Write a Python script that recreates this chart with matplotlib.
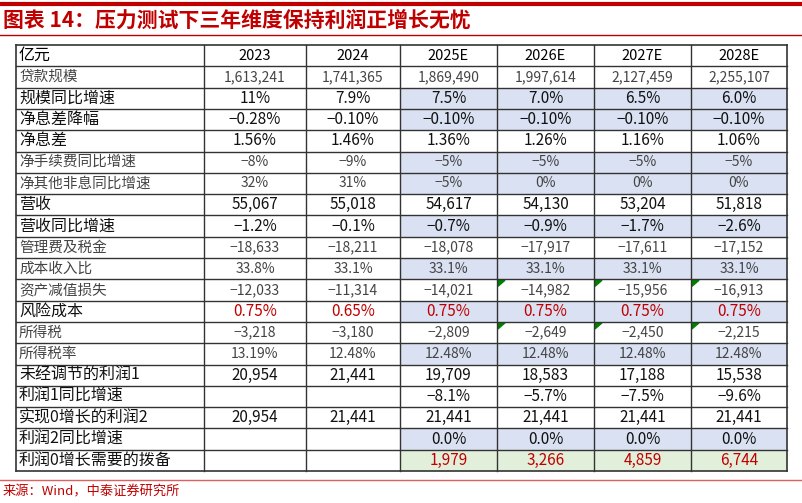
import matplotlib
matplotlib.use("Agg")
import matplotlib.pyplot as plt
from matplotlib.patches import Rectangle, Polygon

plt.rcParams['font.family'] = ['Noto Sans CJK SC', 'DejaVu Sans']

title = "图表 14：压力测试下三年维度保持利润正增长无忧"
source = "来源：Wind，中泰证券研究所"
header = ["亿元", "2023", "2024", "2025E", "2026E", "2027E", "2028E"]
row_labels = ["贷款规模", "规模同比增速", "净息差降幅", "净息差", "净手续费同比增速", "净其他非息同比增速",
              "营收", "营收同比增速", "管理费及税金", "成本收入比", "资产减值损失", "风险成本", "所得税",
              "所得税率", "未经调节的利润1", "利润1同比增速", "实现0增长的利润2", "利润2同比增速", "利润0增长需要的拨备"]
y2023 = ["1,613,241", "11%", "-0.28%", "1.56%", "-8%", "32%", "55,067", "-1.2%", "-18,633", "33.8%",
         "-12,033", "0.75%", "-3,218", "13.19%", "20,954", "", "20,954", "", ""]
y2024 = ["1,741,365", "7.9%", "-0.10%", "1.46%", "-9%", "31%", "55,018", "-0.1%", "-18,211", "33.1%",
         "-11,314", "0.65%", "-3,180", "12.48%", "21,441", "", "21,441", "", ""]
y2025 = ["1,869,490", "7.5%", "-0.10%", "1.36%", "-5%", "-5%", "54,617", "-0.7%", "-18,078", "33.1%",
         "-14,021", "0.75%", "-2,809", "12.48%", "19,709", "-8.1%", "21,441", "0.0%", "1,979"]
y2026 = ["1,997,614", "7.0%", "-0.10%", "1.26%", "-5%", "0%", "54,130", "-0.9%", "-17,917", "33.1%",
         "-14,982", "0.75%", "-2,649", "12.48%", "18,583", "-5.7%", "21,441", "0.0%", "3,266"]
y2027 = ["2,127,459", "6.5%", "-0.10%", "1.16%", "-5%", "0%", "53,204", "-1.7%", "-17,611", "33.1%",
         "-15,956", "0.75%", "-2,450", "12.48%", "17,188", "-7.5%", "21,441", "0.0%", "4,859"]
y2028 = ["2,255,107", "6.0%", "-0.10%", "1.06%", "-5%", "0%", "51,818", "-2.6%", "-17,152", "33.1%",
         "-16,913", "0.75%", "-2,215", "12.48%", "15,538", "-9.6%", "21,441", "0.0%", "6,744"]
cols = [y2023, y2024, y2025, y2026, y2027, y2028]

blue_rows = {1, 2, 4, 5, 7, 9, 11, 13, 17}
green_rows = {18}
red_rows = {11, 18}
small_rows = {0, 4, 5, 8, 9, 10, 12, 13}
flag_rows = {10, 12}

W, H = 803, 503
fig = plt.figure(figsize=(W / 100, H / 100), dpi=100)
ax = fig.add_axes([0, 0, 1, 1])
ax.set_xlim(0, W)
ax.set_ylim(H, 0)
ax.axis('off')

red = "#C00000"
ax.plot([0, W], [4, 4], color="#C00000", lw=3)
ax.plot([0, W], [35, 35], color="#C00000", lw=1)
ax.text(3, 20, title, color=red, fontsize=15, fontweight='bold', fontstyle='italic', va='center', ha='left')
ax.plot([0, W], [480, 480], color="#E06060", lw=1)
ax.text(3, 492, source, color=red, fontsize=9.5, va='center', ha='left')

xs = [16, 204, 306, 400, 497, 594, 691, 787]
top, bottom = 45, 471
nrows = len(row_labels) + 1
rh = (bottom - top) / nrows

for r in range(len(row_labels)):
    y0 = top + (r + 1) * rh
    for c in range(2, 6):
        fc = None
        if r in blue_rows:
            fc = "#D9E1F2"
        if r in green_rows:
            fc = "#E2EFDA"
        if fc:
            ax.add_patch(Rectangle((xs[c + 1], y0), xs[c + 2] - xs[c + 1], rh, facecolor=fc, edgecolor='none'))
        if r in flag_rows and c >= 3:
            x = xs[c + 1]
            ax.add_patch(Polygon([[x + 1, y0 + 1], [x + 8, y0 + 1], [x + 1, y0 + 7]], color="#008000"))

for i in range(nrows + 1):
    y = top + i * rh
    ax.plot([xs[0], xs[-1]], [y, y], color="#333333", lw=1.2 if i in (0, nrows) else 1)
for j, x in enumerate(xs):
    ax.plot([x, x], [top, bottom], color="#333333", lw=1.2 if j in (0, len(xs) - 1) else 1)

def fs(r):
    return 10.5 if r in small_rows else 11.5

yc = top + rh / 2
ax.text(xs[0] + 3, yc, header[0], fontsize=11.5, va='center', ha='left')
for j in range(1, 7):
    ax.text((xs[j] + xs[j + 1]) / 2, yc, header[j], fontsize=10.5, va='center', ha='center')

for r, lab in enumerate(row_labels):
    yc = top + (r + 1.5) * rh
    ax.text(xs[0] + 3, yc, lab, fontsize=fs(r), va='center', ha='left',
            color="#444444" if r in small_rows else "#111111")
    for c, col in enumerate(cols):
        v = col[r].replace("-", "−")
        color = red if r in red_rows else ("#444444" if r in small_rows else "#111111")
        ax.text((xs[c + 1] + xs[c + 2]) / 2, yc, v, fontsize=fs(r) - 0.5, va='center', ha='center', color=color)

fig.savefig("out.png", dpi=100)
